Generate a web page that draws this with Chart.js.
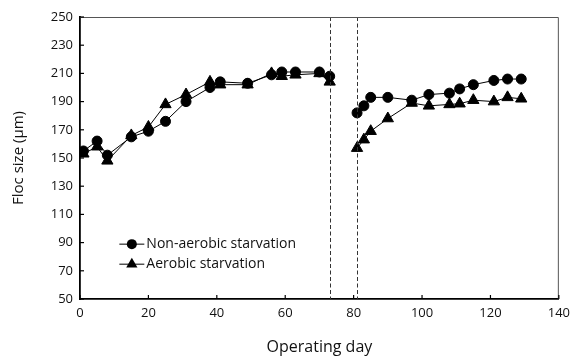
<!DOCTYPE html>
<html>
<head>
<meta charset="utf-8">
<script src="https://cdn.jsdelivr.net/npm/chart.js@4/dist/chart.umd.min.js"></script>
<style>
  html, body { margin: 0; padding: 0; background: #fff; }
  #wrap { width: 576px; height: 357px; }
</style>
</head>
<body>
<div id="wrap"><canvas id="grafico"></canvas></div>
<script>
// Dias de operação (as duas séries foram medidas nos mesmos dias)
const days = [1, 5, 8, 15, 20, 25, 31, 38, 41, 49, 56, 59, 63, 70, 73,
              81, 83, 85, 90, 97, 102, 108, 111, 115, 121, 125, 129];
const nonAerobic = [155, 162, 152, 165, 169, 176, 190, 200, 204, 203, 209, 211, 211, 211, 208,
                    182, 187, 193, 193, 191, 195, 196, 199, 202, 205, 206, 206];
const aerobic = [153, 158, 148, 166, 172, 188, 195, 204, 202, 202, 210, 208, 209, 210, 204,
                 157, 163, 169, 178, 189, 187, 188, 188.5, 191, 190, 193, 192];
const yTicks = [50, 70, 90, 110, 130, 150, 170, 190, 210, 230, 250];
const xTicks = [0, 20, 40, 60, 80, 100, 120, 140];
const stopDay = 73;     // linha tracejada 1
const restartDay = 81;  // linha tracejada 2

const FONT = 'Open Sans';

function pontos(ys) {
    return days.map((d, i) => ({ x: d, y: ys[i] }));
}

// sem linha entre o fim da fase 1 e o reinício
const quebra = {
    borderColor: c => (c.p0.parsed.x < restartDay && c.p1.parsed.x >= restartDay) ? 'rgba(0,0,0,0)' : undefined
};

// linhas tracejadas, moldura superior/direita, ticks internos e legenda
const extras = {
    id: 'extras',
    afterDatasetsDraw(chart) {
        const { ctx, chartArea: a, scales: { x, y } } = chart;
        ctx.save();
        ctx.strokeStyle = '#333';
        ctx.lineWidth = 1;
        ctx.setLineDash([4, 2.5]);
        [stopDay, restartDay].forEach(d => {
            const px = Math.round(x.getPixelForValue(d)) + 0.5;
            ctx.beginPath();
            ctx.moveTo(px, a.top);
            ctx.lineTo(px, a.bottom);
            ctx.stroke();
        });
        ctx.setLineDash([]);

        ctx.strokeStyle = '#555';
        ctx.beginPath();
        ctx.moveTo(a.left, a.top + 0.5);
        ctx.lineTo(a.right - 0.5, a.top + 0.5);
        ctx.lineTo(a.right - 0.5, a.bottom);
        ctx.stroke();

        ctx.strokeStyle = '#000';
        ctx.lineWidth = 1.2;
        yTicks.forEach(v => {
            const py = y.getPixelForValue(v);
            ctx.beginPath();
            ctx.moveTo(a.left, py);
            ctx.lineTo(a.left + 4, py);
            ctx.stroke();
        });
        xTicks.forEach(v => {
            const px = x.getPixelForValue(v);
            ctx.beginPath();
            ctx.moveTo(px, a.bottom);
            ctx.lineTo(px, a.bottom - 4);
            ctx.stroke();
        });

        // legenda
        const lx = x.getPixelForValue(11.5);
        chart.data.datasets.forEach((ds, i) => {
            const ly = y.getPixelForValue(88.9 - i * 14.2);
            ctx.strokeStyle = '#000';
            ctx.lineWidth = 1;
            ctx.beginPath();
            ctx.moveTo(lx, ly);
            ctx.lineTo(lx + 25, ly);
            ctx.stroke();
            ctx.fillStyle = '#000';
            ctx.beginPath();
            if (ds.pointStyle === 'circle') {
                ctx.arc(lx + 12.5, ly, ds.pointRadius, 0, Math.PI * 2);
            } else {
                const r = ds.pointRadius;
                ctx.moveTo(lx + 12.5, ly - r);
                ctx.lineTo(lx + 12.5 + r * 0.866, ly + r / 2);
                ctx.lineTo(lx + 12.5 - r * 0.866, ly + r / 2);
                ctx.closePath();
            }
            ctx.fill();
            ctx.fillStyle = '#111';
            ctx.font = '14px "' + FONT + '"';
            ctx.textBaseline = 'middle';
            ctx.fillText(ds.label, lx + 27, ly);
        });
        ctx.restore();
    }
};

new Chart(document.getElementById('grafico'), {
    type: 'scatter',
    data: {
        datasets: [{
            label: 'Non-aerobic starvation',
            data: pontos(nonAerobic),
            showLine: true,
            borderColor: '#000',
            borderWidth: 1,
            backgroundColor: '#000',
            pointStyle: 'circle',
            pointRadius: 5,
            segment: quebra
        }, {
            label: 'Aerobic starvation',
            data: pontos(aerobic),
            showLine: true,
            borderColor: '#000',
            borderWidth: 1,
            backgroundColor: '#000',
            pointStyle: 'triangle',
            pointRadius: 6.5,
            segment: quebra
        }]
    },
    options: {
        responsive: true,
        maintainAspectRatio: false,
        animation: false,
        layout: { padding: { left: 0, right: 13, top: 17, bottom: 0 } },
        plugins: {
            legend: { display: false },
            tooltip: { enabled: false }
        },
        scales: {
            x: {
                type: 'linear',
                min: 0,
                max: 140,
                afterBuildTicks: s => { s.ticks = xTicks.map(v => ({ value: v })); },
                afterFit: s => { s.height = 58; },
                grid: { display: false, drawTicks: false },
                border: { color: '#000', width: 1.8 },
                ticks: { color: '#111', font: { family: FONT, size: 13 }, padding: 6, maxRotation: 0 },
                title: {
                    display: true,
                    text: 'Operating day',
                    color: '#111',
                    font: { family: FONT, size: 16 },
                    padding: { top: 0, bottom: 0 }
                }
            },
            y: {
                min: 50,
                max: 250,
                afterBuildTicks: s => { s.ticks = yTicks.map(v => ({ value: v })); },
                afterFit: s => { s.width = 80; },
                grid: { display: false, drawTicks: false },
                border: { color: '#000', width: 1.8 },
                ticks: { color: '#111', font: { family: FONT, size: 13 }, padding: 7 },
                title: {
                    display: true,
                    text: 'Floc size (μm)',
                    color: '#111',
                    font: { family: FONT, size: 15 },
                    padding: { top: 10, bottom: 0 }
                }
            }
        }
    },
    plugins: [extras]
});
</script>
</body>
</html>
